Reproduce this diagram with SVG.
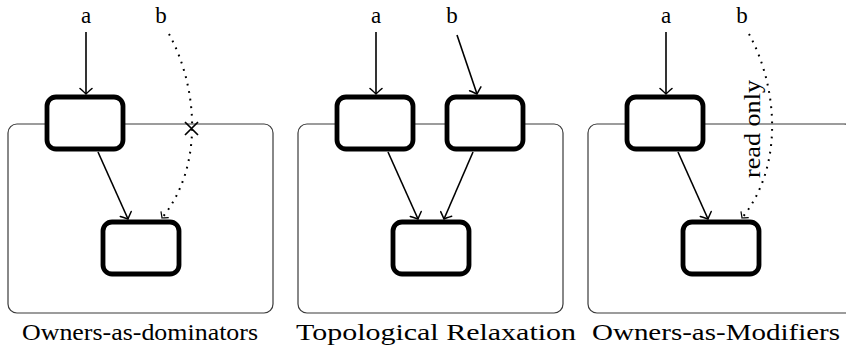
<svg xmlns="http://www.w3.org/2000/svg" width="846" height="346" viewBox="0 0 846 346">
  <style>
    .frame { fill: #ffffff; stroke: #3a3a3a; stroke-width: 1.2; }
    .node { fill: #ffffff; stroke: #000000; stroke-width: 4.8; }
    .edge { fill: none; stroke: #000000; stroke-width: 1.6; }
    .dotted { fill: none; stroke: #000000; stroke-width: 2; stroke-dasharray: 1.8 5.8; }
    .cross { fill: none; stroke: #000000; stroke-width: 1.7; }
    .lbl { font-family: "Liberation Serif", "DejaVu Serif", serif; font-size: 23px; fill: #000000; text-anchor: middle; }
    .cap { font-family: "Liberation Serif", "DejaVu Serif", serif; font-size: 23px; fill: #000000; text-anchor: middle; }
  </style>
  <defs>
    <marker id="arrow" viewBox="-8 -7 10 14" markerWidth="10" markerHeight="14" refX="0" refY="0" orient="auto" markerUnits="userSpaceOnUse">
      <path d="M -5.5 -6 Q -1.5 -1.5 0 0 Q -1.5 1.5 -5.5 6" fill="none" stroke="#000" stroke-width="1.5" stroke-linecap="round"/>
    </marker>
    <marker id="arrowDot" viewBox="-8 -7 10 14" markerWidth="10" markerHeight="14" refX="0" refY="0" orient="auto" markerUnits="userSpaceOnUse">
      <path d="M -4.5 -5 Q -1.2 -1.2 0 0 Q -1.2 1.2 -4.5 5" fill="none" stroke="#000" stroke-width="1.2"/>
    </marker>
  </defs>

  <!-- owner contexts -->
  <g id="frames">
    <rect class="frame" x="8" y="124" width="265" height="189" rx="9"/>
    <rect class="frame" x="298" y="124" width="265" height="189" rx="9"/>
    <rect class="frame" x="588" y="124" width="265" height="189" rx="9"/>
  </g>

  <!-- connectors -->
  <g id="connectors">
    <!-- Owners-as-dominators -->
    <line class="edge" x1="86" y1="32" x2="86" y2="94" marker-end="url(#arrow)"/>
    <line class="edge" x1="98" y1="152" x2="128" y2="219" marker-end="url(#arrow)"/>
    <path class="dotted" d="M169,34 C197,85 205,165 162,218" marker-end="url(#arrowDot)"/>
    <path class="cross" d="M185,122 L198,135 M198,122 L185,135"/>

    <!-- Topological Relaxation -->
    <line class="edge" x1="376" y1="32" x2="376" y2="94" marker-end="url(#arrow)"/>
    <line class="edge" x1="457" y1="35" x2="477" y2="94" marker-end="url(#arrow)"/>
    <line class="edge" x1="388" y1="152" x2="418" y2="219" marker-end="url(#arrow)"/>
    <line class="edge" x1="473" y1="152" x2="444" y2="219" marker-end="url(#arrow)"/>

    <!-- Owners-as-Modifiers -->
    <line class="edge" x1="666" y1="32" x2="666" y2="94" marker-end="url(#arrow)"/>
    <line class="edge" x1="678" y1="152" x2="708" y2="219" marker-end="url(#arrow)"/>
    <path class="dotted" d="M749,34 C777,85 785,165 742,218" marker-end="url(#arrowDot)"/>
  </g>

  <!-- objects -->
  <g id="dom-top"><rect class="node" x="47" y="97" width="76" height="52" rx="9"/></g>
  <g id="dom-bottom"><rect class="node" x="103" y="222" width="76" height="52" rx="9"/></g>
  <g id="topo-left"><rect class="node" x="337" y="97" width="76" height="52" rx="9"/></g>
  <g id="topo-right"><rect class="node" x="447" y="97" width="76" height="52" rx="9"/></g>
  <g id="topo-bottom"><rect class="node" x="393" y="222" width="76" height="52" rx="9"/></g>
  <g id="mod-top"><rect class="node" x="627" y="97" width="76" height="52" rx="9"/></g>
  <g id="mod-bottom"><rect class="node" x="683" y="222" width="76" height="52" rx="9"/></g>

  <!-- references -->
  <g id="labels">
    <text class="lbl" x="86" y="23">a</text>
    <text class="lbl" x="161" y="23">b</text>
    <text class="lbl" x="376" y="23">a</text>
    <text class="lbl" x="452" y="23">b</text>
    <text class="lbl" x="666" y="23">a</text>
    <text class="lbl" x="742" y="23">b</text>
    <text class="lbl" transform="translate(760,129) rotate(-90)" x="0" y="0" textLength="98" lengthAdjust="spacingAndGlyphs">read only</text>
  </g>

  <!-- captions -->
  <g id="captions">
    <text class="cap" x="140" y="340" textLength="236" lengthAdjust="spacingAndGlyphs">Owners-as-dominators</text>
    <text class="cap" x="436" y="340" textLength="280" lengthAdjust="spacingAndGlyphs">Topological Relaxation</text>
    <text class="cap" x="716" y="340" textLength="248" lengthAdjust="spacingAndGlyphs">Owners-as-Modifiers</text>
  </g>
</svg>
